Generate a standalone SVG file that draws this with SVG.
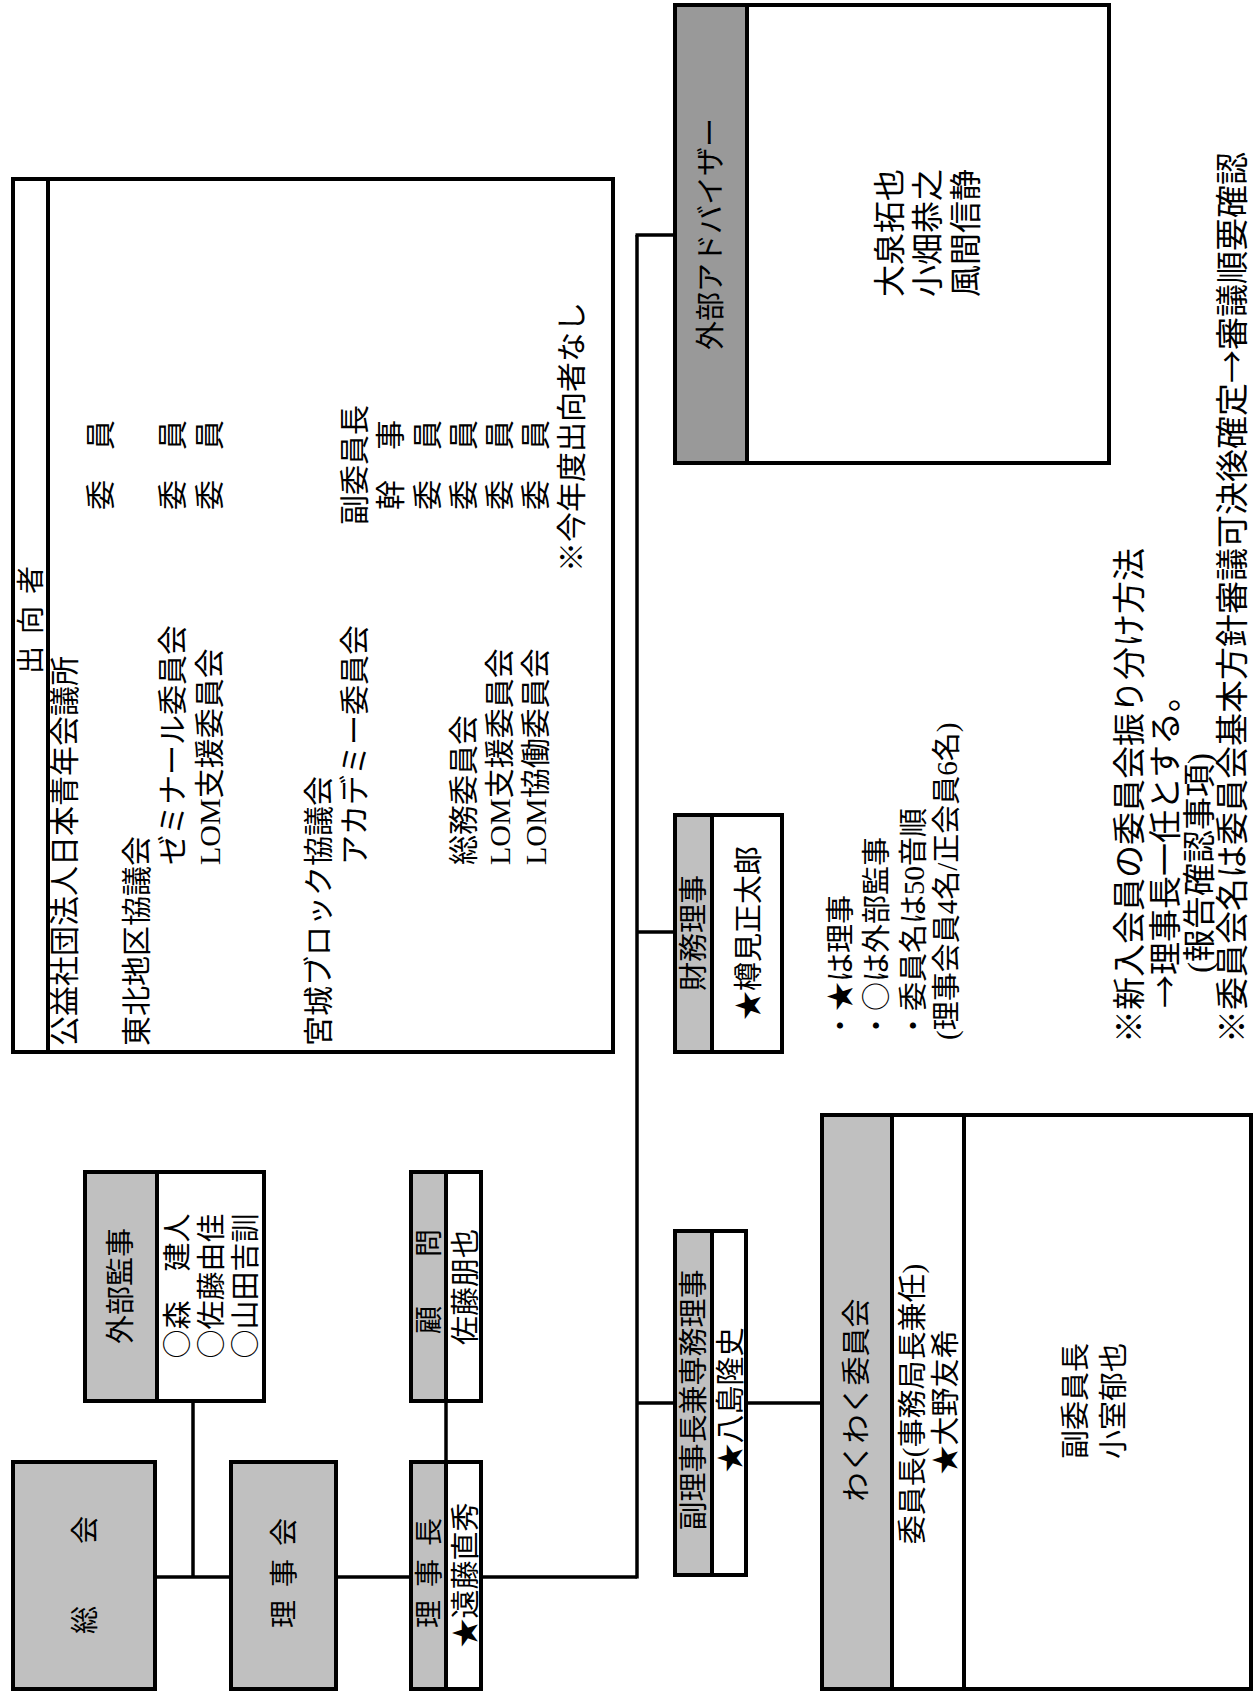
<svg xmlns="http://www.w3.org/2000/svg" width="1255" height="1699" viewBox="0 0 1255 1699">
<style>
.w{fill:#fff;stroke:#000;stroke-width:4}
.g{fill:#c0c0c0;stroke:#000;stroke-width:4}
.d{fill:#999;stroke:#000;stroke-width:4}
.dv{stroke:#000;stroke-width:4}
text{font-family:'Noto Sans CJK JP','Liberation Serif',sans-serif;fill:#000}
text.lt{font-family:'Liberation Serif','Noto Sans CJK JP',serif}
.s28{font-size:28px}.s29{font-size:29px}.s30{font-size:30px}.s32{font-size:32px}.s33{font-size:33px}
.m{text-anchor:middle}
#connectors line{stroke:#000;stroke-width:3.5}
</style>
<rect width="1255" height="1699" fill="#fff"/>
<g id="connectors">
<line x1="157" y1="1577" x2="229" y2="1577"/>
<line x1="193" y1="1403" x2="193" y2="1577"/>
<line x1="338" y1="1577" x2="409" y2="1577"/>
<line x1="446" y1="1403" x2="446" y2="1460"/>
<line x1="483" y1="1577" x2="637" y2="1577"/>
<line x1="637" y1="235" x2="637" y2="1578.5"/>
<line x1="635.5" y1="235" x2="673" y2="235"/>
<line x1="637" y1="932" x2="673" y2="932"/>
<line x1="637" y1="1403" x2="673" y2="1403"/>
<line x1="748" y1="1403" x2="820" y2="1403"/>
</g>
<g id="soukai">
<rect class="g" x="13" y="1462" width="142" height="227"/>
<g transform="rotate(-90)"><text class="s28 m" x="-1620 -1575 -1530" y="95">総　会</text></g>
</g>
<g id="rijikai">
<rect class="g" x="231" y="1462" width="105" height="227"/>
<g transform="rotate(-90)"><text class="s28 m" x="-1614 -1573 -1532" y="294">理事会</text></g>
</g>
<g id="rijicho">
<rect class="w" x="411" y="1462" width="70" height="227"/>
<rect class="g" x="411" y="1462" width="35" height="227"/>
<g transform="rotate(-90)">
<text class="s28 m" x="-1614 -1573 -1532" y="438.5">理事長</text>
<text class="s29 m" x="-1575" y="475.5">★遠藤直秀</text>
</g>
</g>
<g id="gaibu-kanji">
<rect class="w" x="85" y="1172" width="179" height="229"/>
<rect class="g" x="85" y="1172" width="72" height="229"/>
<g transform="rotate(-90)">
<text class="s29 m" x="-1286" y="131">外部監事</text>
<text class="s29 m" x="-1286" y="188">○森　建人</text>
<text class="s29 m" x="-1286" y="222">○佐藤由佳</text>
<text class="s29 m" x="-1286" y="256">○山田吉訓</text>
</g>
</g>
<g id="komon">
<rect class="w" x="411" y="1172" width="70" height="229"/>
<rect class="g" x="411" y="1172" width="35" height="229"/>
<g transform="rotate(-90)">
<text class="s28 m" x="-1320 -1281.5 -1243" y="438.5">顧　問</text>
<text class="s29 m" x="-1287" y="475.5">佐藤朋也</text>
</g>
</g>
<g id="shukkosha">
<rect class="w" x="13" y="179" width="600" height="873"/>
<line class="dv" x1="48" y1="179" x2="48" y2="1052"/>
<g transform="rotate(-90)">
<text class="s28 m" x="-660 -640 -620 -600 -580" y="40.5">出　向　者</text>
<text class="s30" x="-1046" y="74.5">公益社団法人日本青年会議所</text>
<text class="s30 m" x="-465" y="110.5">委　員</text>
<text class="s30" x="-1046" y="146.5">東北地区協議会</text>
<text class="s30" x="-865" y="183">ゼミナール委員会</text>
<text class="s30 m" x="-465" y="183">委　員</text>
<text class="s30 lt" x="-865" y="219.5">LOM支援委員会</text>
<text class="s30 m" x="-465" y="219.5">委　員</text>
<text class="s30" x="-1046" y="328.5">宮城ブロック協議会</text>
<text class="s30" x="-865" y="364.5">アカデミー委員会</text>
<text class="s30 m" x="-465" y="364.5">副委員長</text>
<text class="s30 m" x="-465" y="401">幹　事</text>
<text class="s30 m" x="-465" y="437.5">委　員</text>
<text class="s30" x="-865" y="473.5">総務委員会</text>
<text class="s30 m" x="-465" y="473.5">委　員</text>
<text class="s30 lt" x="-865" y="509.5">LOM支援委員会</text>
<text class="s30 m" x="-465" y="509.5">委　員</text>
<text class="s30 lt" x="-865" y="546">LOM協働委員会</text>
<text class="s30 m" x="-465" y="546">委　員</text>
<text class="s30" x="-572" y="582">※今年度出向者なし</text>
</g>
</g>
<g id="gaibu-advisor">
<rect class="w" x="675" y="5" width="434" height="458"/>
<rect class="d" x="675" y="5" width="72" height="458"/>
<g transform="rotate(-90)">
<text class="s29 m" x="-234" y="721">外部アドバイザー</text>
<text class="s32 m" x="-233" y="901">大泉拓也</text>
<text class="s32 m" x="-233" y="939">小畑恭之</text>
<text class="s32 m" x="-233" y="977">風間信静</text>
</g>
</g>
<g id="zaimu-riji">
<rect class="w" x="675" y="815" width="107" height="237"/>
<rect class="g" x="675" y="815" width="37" height="237"/>
<g transform="rotate(-90)">
<text class="s29 m" x="-933" y="703.5">財務理事</text>
<text class="s29 m" x="-933" y="759">★樽見正太郎</text>
</g>
</g>
<g id="fuku-rijicho">
<rect class="w" x="675" y="1231" width="71" height="344"/>
<rect class="g" x="675" y="1231" width="37" height="344"/>
<g transform="rotate(-90)">
<text class="s29 m" x="-1400" y="703.5">副理事長兼専務理事</text>
<text class="s29 m" x="-1400" y="741">★八島隆史</text>
</g>
</g>
<g id="wakuwaku">
<rect class="w" x="822" y="1115" width="429" height="574"/>
<rect class="g" x="822" y="1115" width="70" height="574"/>
<line class="dv" x1="964" y1="1115" x2="964" y2="1689"/>
<g transform="rotate(-90)">
<text class="s29 m" x="-1400" y="867">わくわく委員会</text>
<text class="s29 m lt" x="-1404" y="923">委員長(事務局長兼任)</text>
<text class="s29 m" x="-1402" y="956">★大野友希</text>
<text class="s29 m" x="-1401" y="1086">副委員長</text>
<text class="s29 m" x="-1401" y="1124">小室郁也</text>
</g>
</g>
<g id="legend">
<g transform="rotate(-90)">
<text class="s29" x="-1040" y="851">・★は理事</text>
<text class="s29" x="-1040" y="887">・○は外部監事</text>
<text class="s29 lt" x="-1040" y="924">・委員名は50音順</text>
<text class="s29 lt" x="-1040" y="957">(理事会員4名/正会員6名)</text>
</g>
</g>
<g id="notes">
<g transform="rotate(-90)">
<text class="s33" x="-1043" y="1141">※新入会員の委員会振り分け方法</text>
<text class="s33" x="-1008" y="1177">→理事長一任とする。</text>
<text class="s33 lt" x="-973" y="1211">(報告確認事項)</text>
<text class="s33" x="-1043" y="1244">※委員会名は委員会基本方針審議可決後確定→審議順要確認</text>
</g>
</g>
</svg>
